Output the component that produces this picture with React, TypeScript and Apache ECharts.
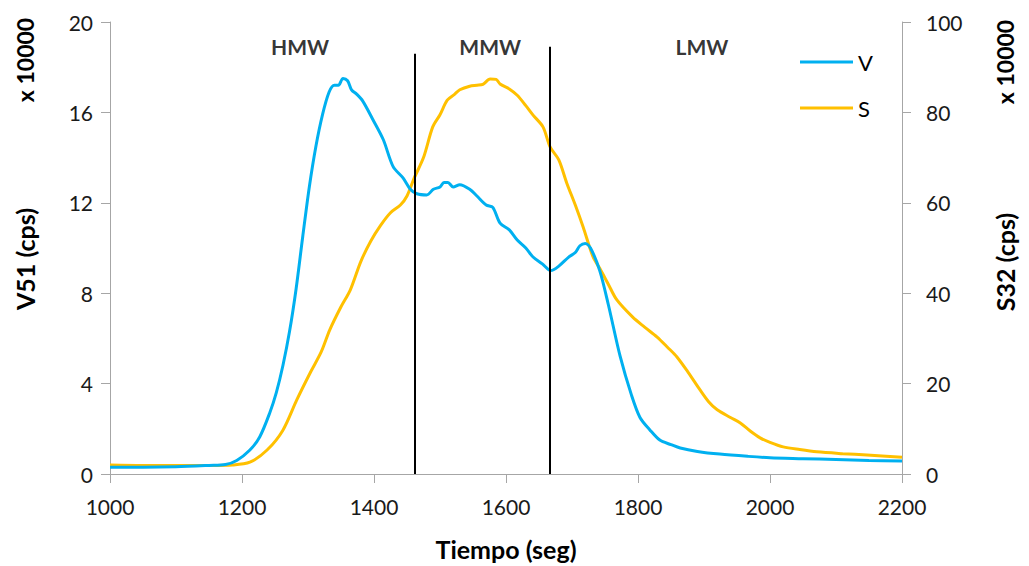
import React, { useEffect, useRef } from "react";
import * as echarts from "echarts";

// V (V51, left axis, x 10000 cps)
const vTime = [1000,1050,1100,1150,1175,1192,1212,1227,1242,1252,1262,1272,1282,1292,1302,1312,1322,1332,1340,1346,1353,1360,1366,1374,1383,1398,1414,1429,1444,1455,1465,1480,1490,1500,1506,1512,1520,1530,1545,1556,1570,1580,1591,1605,1617,1630,1641,1655,1668,1680,1695,1705,1712,1720,1728,1742,1755,1773,1790,1803,1818,1833,1850,1864,1890,1924,1967,2000,2050,2100,2150,2200];
const vValues = [0.3,0.3,0.32,0.38,0.42,0.6,1.06,1.65,2.7,3.6,4.8,6.3,8.2,10.5,12.7,14.5,15.9,16.9,17.2,17.2,17.5,17.4,17.0,16.8,16.5,15.7,14.8,13.6,13.1,12.6,12.4,12.35,12.6,12.7,12.9,12.9,12.7,12.8,12.6,12.3,11.9,11.8,11.1,10.8,10.35,10.0,9.6,9.3,9.0,9.2,9.6,9.8,10.1,10.2,10.0,9.0,7.5,5.2,3.5,2.5,1.95,1.5,1.3,1.15,1.0,0.88,0.78,0.72,0.68,0.64,0.6,0.57];

// S (S32, right axis, x 10000 cps)
const sTime = [1000,1050,1100,1150,1186,1212,1238,1262,1283,1303,1320,1333,1350,1364,1380,1395,1410,1425,1440,1450,1461,1475,1489,1500,1511,1522,1530,1545,1556,1565,1576,1585,1591,1605,1617,1630,1641,1656,1667,1680,1692,1705,1717,1732,1742,1755,1768,1792,1810,1829,1845,1859,1876,1894,1907,1920,1940,1955,1970,1985,2000,2020,2045,2071,2110,2147,2200];
const sValues = [2.0,1.9,1.9,1.9,2.0,2.6,5.3,9.7,16.4,22.3,27,31.9,37,40.7,47,51.5,55,57.8,59.5,61.5,65.5,70,76.8,79.5,82.7,84,85,85.8,86,86.2,87.4,87.3,86.3,85.2,83.8,81.5,79.4,76.8,72.3,69.5,64.4,59.5,54.6,48,45.5,42,38.5,34.7,32.5,30.3,28,25.9,22.5,18.6,16,14.2,12.5,11.3,9.5,8.0,7.0,6.0,5.4,4.9,4.5,4.2,3.7];

// Fraction boundaries (time, top of line on left axis)
const dividerTimes = [1461, 1667];
const dividerTops = [18.6, 18.9];

// Region labels
const regionNames = ["HMW", "MMW", "LMW"];
const regionTimes = [1288, 1576, 1897];
const regionLevel = 18.9;

const xTicks = { min: 1000, max: 2200, interval: 200 };
const leftTicks = { min: 0, max: 20, interval: 4 };
const rightTicks = { min: 0, max: 100, interval: 20 };

const FONT = "Lato, 'Open Sans', sans-serif";
const AXIS_GREY = "#a6a6a6";

export default function App() {
  const ref = useRef<HTMLDivElement>(null);
  useEffect(() => {
    if (!ref.current) return;
    const chart = echarts.init(ref.current, null, { renderer: "svg" });
    const axisCommon = {
      axisLine: { show: true, lineStyle: { color: AXIS_GREY, width: 1 } },
      axisTick: { show: true, length: 9, lineStyle: { color: AXIS_GREY } },
      splitLine: { show: false },
    };
    chart.setOption({
      animation: false,
      backgroundColor: "#fff",
      textStyle: { fontFamily: FONT },
      grid: { left: 110, right: 127, top: 22, bottom: 92, containLabel: false },
      legend: {
        data: ["V", "S"],
        orient: "vertical",
        left: 795,
        top: 46,
        icon: "rect",
        itemWidth: 53,
        itemHeight: 3,
        itemGap: 24,
        textStyle: { fontSize: 22, color: "#000", fontFamily: FONT },
      },
      xAxis: {
        type: "value",
        ...xTicks,
        ...axisCommon,
        axisLabel: { fontSize: 21, color: "#1a1a1a", margin: 22, fontFamily: FONT, formatter: (v: number) => String(v) },
        name: "Tiempo (seg)",
        nameLocation: "middle",
        nameGap: 62,
        nameTextStyle: { fontSize: 25, fontWeight: "bold", color: "#000", fontFamily: FONT },
      },
      yAxis: [
        {
          type: "value",
          ...leftTicks,
          ...axisCommon,
          axisLabel: { fontSize: 21, color: "#1a1a1a", margin: 17, fontFamily: FONT },
        },
        {
          type: "value",
          ...rightTicks,
          ...axisCommon,
          position: "right",
          axisLabel: { fontSize: 21, color: "#1a1a1a", margin: 24, fontFamily: FONT },
        },
      ],
      graphic: [
        { type: "text", x: 25, y: 259, rotation: Math.PI / 2, style: { text: "V51 (cps)", font: `bold 25px ${FONT}`, fill: "#000", align: "center", verticalAlign: "middle" } },
        { type: "text", x: 25, y: 60, rotation: Math.PI / 2, style: { text: "x 10000", font: `bold 23px ${FONT}`, fill: "#000", align: "center", verticalAlign: "middle" } },
        { type: "text", x: 1005, y: 262, rotation: Math.PI / 2, style: { text: "S32 (cps)", font: `bold 25px ${FONT}`, fill: "#000", align: "center", verticalAlign: "middle" } },
        { type: "text", x: 1005, y: 62, rotation: Math.PI / 2, style: { text: "x 10000", font: `bold 23px ${FONT}`, fill: "#000", align: "center", verticalAlign: "middle" } },
      ],
      series: [
        {
          name: "V",
          type: "line",
          yAxisIndex: 0,
          symbol: "none",
          showSymbol: false,
          smooth: 0.3,
          lineStyle: { color: "#00b0f0", width: 3 },
          itemStyle: { color: "#00b0f0" },
          data: vTime.map((t, i) => [t, vValues[i]]),
          z: 3,
          markLine: {
            silent: true,
            symbol: "none",
            label: { show: false },
            lineStyle: { color: "#000", width: 2, type: "solid" },
            data: dividerTimes.map((t, i) => [
              { coord: [t, 0] },
              { coord: [t, dividerTops[i]] },
            ]),
          },
        },
        {
          name: "S",
          type: "line",
          yAxisIndex: 1,
          symbol: "none",
          showSymbol: false,
          smooth: 0.3,
          lineStyle: { color: "#ffc000", width: 3 },
          itemStyle: { color: "#ffc000" },
          data: sTime.map((t, i) => [t, sValues[i]]),
          z: 2,
        },
        {
          name: "regions",
          type: "scatter",
          yAxisIndex: 0,
          symbolSize: 1,
          itemStyle: { color: "rgba(0,0,0,0)" },
          silent: true,
          label: {
            show: true,
            position: "inside",
            formatter: (p: any) => regionNames[p.dataIndex],
            fontSize: 21,
            fontWeight: "bold",
            color: "#000",
            fontFamily: FONT,
          },
          data: regionTimes.map((t) => [t, regionLevel]),
        },
      ],
    });
    return () => chart.dispose();
  }, []);
  return <div ref={ref} style={{ width: 1029, height: 566, position: "absolute", left: 0, top: 0 }} />;
}
